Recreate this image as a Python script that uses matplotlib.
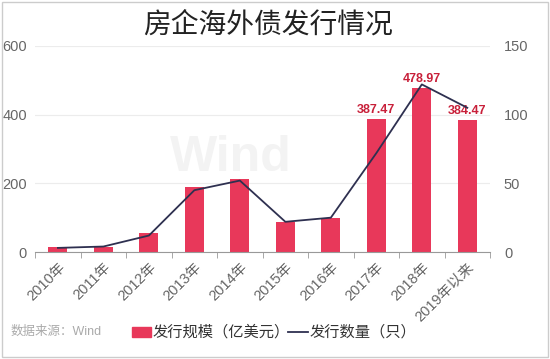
import matplotlib
matplotlib.use("Agg")
import matplotlib.pyplot as plt
from matplotlib.patches import Rectangle

plt.rcParams['font.family'] = ['Liberation Sans', 'Noto Sans CJK SC', 'DejaVu Sans']

years = ["2010年", "2011年", "2012年", "2013年", "2014年", "2015年",
         "2016年", "2017年", "2018年", "2019年以来"]
scale = [16, 15, 55, 188, 214, 87, 99, 387.47, 478.97, 384.47]
count = [3, 4, 12, 45, 52, 22, 25, 72, 122, 105]
labelled = [7, 8, 9]

bar_c = "#E8385A"
line_c = "#2E3050"

fig = plt.figure(figsize=(5.5, 3.59), dpi=100)
ax = fig.add_axes([0.064, 0.298, 0.827, 0.574])
ax2 = ax.twinx()

x = range(len(years))
ax.bar(x, scale, width=0.42, color=bar_c, zorder=2)
ax2.plot(x, count, color=line_c, lw=1.3, zorder=3)

for i in labelled:
    ax.text(i, scale[i] + 8, f"{scale[i]:.2f}", ha="center", va="bottom",
            color="#C8203A", fontsize=9, fontweight="bold", zorder=4)

ax.set_xlim(-0.5, len(years) - 0.5)
ax.set_ylim(0, 600)
ax2.set_ylim(0, 150)
ax.set_yticks([0, 200, 400, 600])
ax2.set_yticks([0, 50, 100, 150])
ax.yaxis.grid(True, color="#ececec", lw=0.8, zorder=0)
ax.set_axisbelow(True)

ax.set_xticks(list(x))
ax.set_xticklabels(years, rotation=45, ha="right", va="top",
                   rotation_mode="anchor", fontsize=10.5, color="#666666")
ax.set_xticks([i - 0.5 for i in range(len(years) + 1)], minor=True)
ax.tick_params(axis="x", which="major", length=0, pad=6)
ax.tick_params(axis="x", which="minor", length=4, color="#999999")
ax.tick_params(axis="y", length=0, labelsize=10.5, labelcolor="#666666", pad=6)
ax2.tick_params(axis="y", length=0, labelsize=10.5, labelcolor="#666666", pad=10)

for a in (ax, ax2):
    for s in ("top", "left", "right"):
        a.spines[s].set_visible(False)
    a.spines["bottom"].set_color("#999999")
ax2.spines["bottom"].set_visible(False)

fig.text(0.488, 0.93, "房企海外债发行情况", ha="center", va="center",
         fontsize=20, color="#222222")
fig.text(0.42, 0.56, "Wind", ha="center", va="center", fontsize=36,
         fontweight="bold", color="#f3f3f3", zorder=0)

fig.text(0.02, 0.075, "数据来源：Wind", ha="left", va="center",
         fontsize=9, color="#aaaaaa")
fig.patches.append(Rectangle((0.24, 0.062), 0.035, 0.026, color=bar_c,
                             transform=fig.transFigure, figure=fig))
fig.text(0.277, 0.075, "发行规模（亿美元）", ha="left", va="center",
         fontsize=11, color="#333333")
fig.add_artist(plt.Line2D([0.524, 0.56], [0.075, 0.075], color=line_c,
                          lw=1.3, transform=fig.transFigure))
fig.text(0.563, 0.075, "发行数量（只）", ha="left", va="center",
         fontsize=11, color="#333333")

fig.patches.append(Rectangle((0.003, 0.005), 0.994, 0.99, fill=False,
                             edgecolor="#cccccc", lw=1,
                             transform=fig.transFigure, figure=fig))

fig.savefig("out.png", dpi=100)
